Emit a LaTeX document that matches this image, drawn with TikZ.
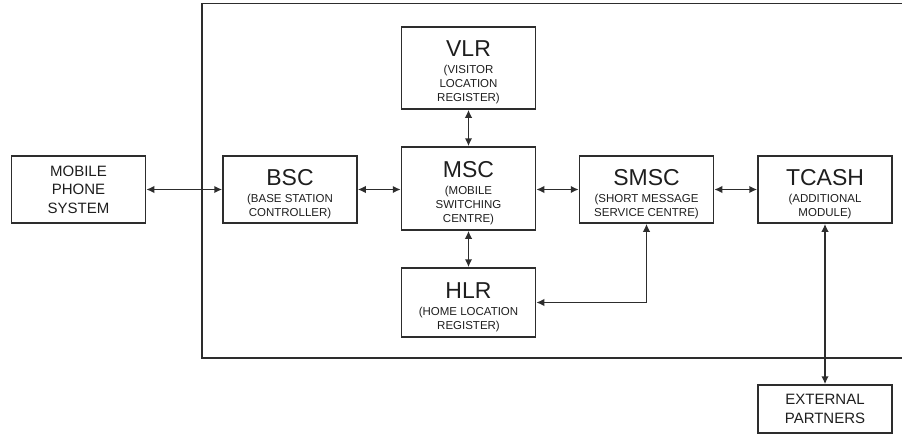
\documentclass[tikz,border=0pt]{standalone}
\usepackage{fontspec}
\setmainfont{Liberation Sans}
\usetikzlibrary{arrows.meta}

\definecolor{linegray}{RGB}{45,45,45}
\definecolor{textgray}{RGB}{30,30,30}
\newcommand{\titlefont}{\fontsize{23}{24}\selectfont}
\newcommand{\subfont}{\fontsize{11.5}{14}\selectfont}
\newcommand{\plainfont}{\fontsize{15}{18.5}\selectfont}
\newcommand{\boxtitle}[1]{{\titlefont\rule{0pt}{25pt}#1}\\[3pt]}

\tikzset{every picture/.style={line width=0.75pt}}
\tikzset{
  unitbox/.style={draw=linegray, line width=1.5pt, text=textgray, align=center,
    inner sep=0pt, minimum width=134, minimum height=67, font=\subfont},
  plainbox/.style={unitbox, font=\plainfont},
  link/.style={draw=linegray, line width=1.6pt,
    {Latex[length=8pt,width=7.5pt]}-{Latex[length=8pt,width=7.5pt]}},
}

\begin{document}
\begin{tikzpicture}[x=1pt,y=1pt,yscale=-1,xscale=1]
	\useasboundingbox (0,0) rectangle (902,436);

	%Shape: network frame (open to the right)
	\draw [linegray, line width=1.6pt] (902,3.5) -- (202,3.5) -- (202,358) -- (902,358) ;

	% Boxes
	\node [plainbox] (mps) at (78.5,189.5) {MOBILE\\PHONE\\SYSTEM};
	\node [unitbox] (bsc) at (290,189.5) {\boxtitle{BSC}(BASE STATION\\CONTROLLER)};
	\node [unitbox, minimum height=82] (vlr) at (468.5,68) {\boxtitle{VLR}(VISITOR\\LOCATION\\REGISTER)};
	\node [unitbox, minimum height=83] (msc) at (468.5,188.5) {\boxtitle{MSC}(MOBILE\\SWITCHING\\CENTRE)};
	\node [unitbox, minimum height=69] (hlr) at (468.5,302.5) {\boxtitle{HLR}(HOME LOCATION\\REGISTER)};
	\node [unitbox] (smsc) at (646.5,189.5) {\boxtitle{SMSC}(SHORT MESSAGE\\SERVICE CENTRE)};
	\node [unitbox] (tcash) at (825,189.5) {\boxtitle{TCASH}(ADDITIONAL\\MODULE)};
	\node [plainbox, minimum height=48] (ext) at (825,409) {EXTERNAL\\PARTNERS};

	% Links
	\draw [link] (mps.east) -- (bsc.west) ;
	\draw [link] (bsc.east) -- (msc.west |- bsc.east) ;
	\draw [link] (msc.east |- smsc.west) -- (smsc.west) ;
	\draw [link] (smsc.east) -- (tcash.west) ;
	\draw [link] (vlr.south) -- (msc.north) ;
	\draw [link] (msc.south) -- (hlr.north) ;
	\draw [link] (smsc.south) |- (hlr.east) ;
	\draw [link] (tcash.south) -- (ext.north) ;

\end{tikzpicture}
\end{document}
